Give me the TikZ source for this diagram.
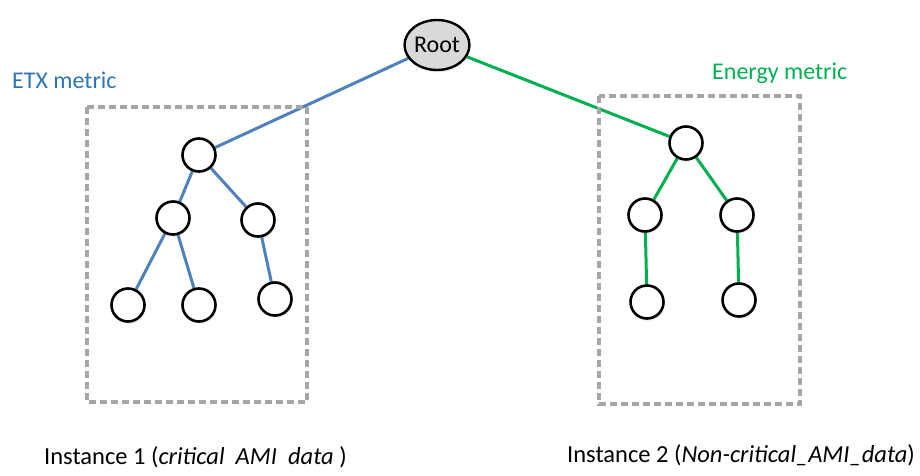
\documentclass[tikz,border=0pt]{standalone}
\usepackage{fontspec}
\setmainfont{Carlito}
\usetikzlibrary{shapes.geometric,shadows}
\begin{document}
\begin{tikzpicture}[x=1pt,y=-1pt,
  vertex/.style={circle,draw=black,line width=2.6pt,fill=white,minimum size=33pt,inner sep=0pt,
    drop shadow={opacity=0.12,shadow xshift=1pt,shadow yshift=-2.5pt}},
  rootnode/.style={ellipse,draw=black,line width=2.4pt,fill=gray!30,minimum width=64pt,minimum height=50pt,inner sep=0pt,
    font=\fontsize{24}{28}\selectfont,drop shadow={opacity=0.12,shadow xshift=1pt,shadow yshift=-2.5pt}},
  etx/.style={draw=etxblue,line width=3pt},
  nrg/.style={draw=nrggreen,line width=3pt},
  region/.style={draw=boxgray,line width=3.6pt,dash pattern=on 7pt off 4pt},
  metric/.style={font=\fontsize{24}{28}\selectfont,inner sep=0pt,anchor=west},
  caption/.style={font=\fontsize{24.5}{29}\selectfont,inner sep=0pt,anchor=base west}]
\definecolor{etxblue}{HTML}{4F81BD}
\definecolor{nrggreen}{HTML}{00B050}
\definecolor{etxtext}{HTML}{2E75B6}
\definecolor{boxgray}{HTML}{A6A6A6}
\useasboundingbox (0,0) rectangle (920,476);
\pgfdeclarelayer{bg}\pgfsetlayers{bg,main}

% dashed instance regions
\draw[region] (87,107) rectangle (307,402);
\draw[region] (599,96) rectangle (800,404);

% root and metric labels
\node[rootnode] (root) at (437,45) {Root};
\node[metric,text=etxtext] (etxlabel) at (12,80) {ETX metric};
\node[metric,text=nrggreen] (nrglabel) at (712,73) {Energy metric};

% ETX tree
\node[vertex] (a) at (199,155) {};
\node[vertex] (b) at (173,218) {};
\node[vertex] (c) at (258,220) {};
\node[vertex] (d) at (128,305) {};
\node[vertex] (e) at (199,305) {};
\node[vertex] (f) at (275,299) {};

% energy tree
\node[vertex] (g) at (686,143) {};
\node[vertex] (h) at (645,215) {};
\node[vertex] (i) at (737,215) {};
\node[vertex] (j) at (647,302) {};
\node[vertex] (k) at (739,300) {};

\begin{pgfonlayer}{bg}
\draw[etx] (root) -- (a);
\draw[etx] (a) -- (b);
\draw[etx] (a) -- (c);
\draw[etx] (b) -- (d);
\draw[etx] (b) -- (e);
\draw[etx] (c) -- (f);
\draw[nrg] (root) -- (g);
\draw[nrg] (g) -- (h);
\draw[nrg] (g) -- (i);
\draw[nrg] (h) -- (j);
\draw[nrg] (i) -- (k);
\end{pgfonlayer}

% instance captions
\node[caption] (cap1) at (44,464) {Instance 1 (\textit{critical\ \ AMI\ \ data} )};
\node[caption] (cap2) at (567,462) {Instance 2 (\textit{Non-critical\_AMI\_data})};
\end{tikzpicture}
\end{document}
